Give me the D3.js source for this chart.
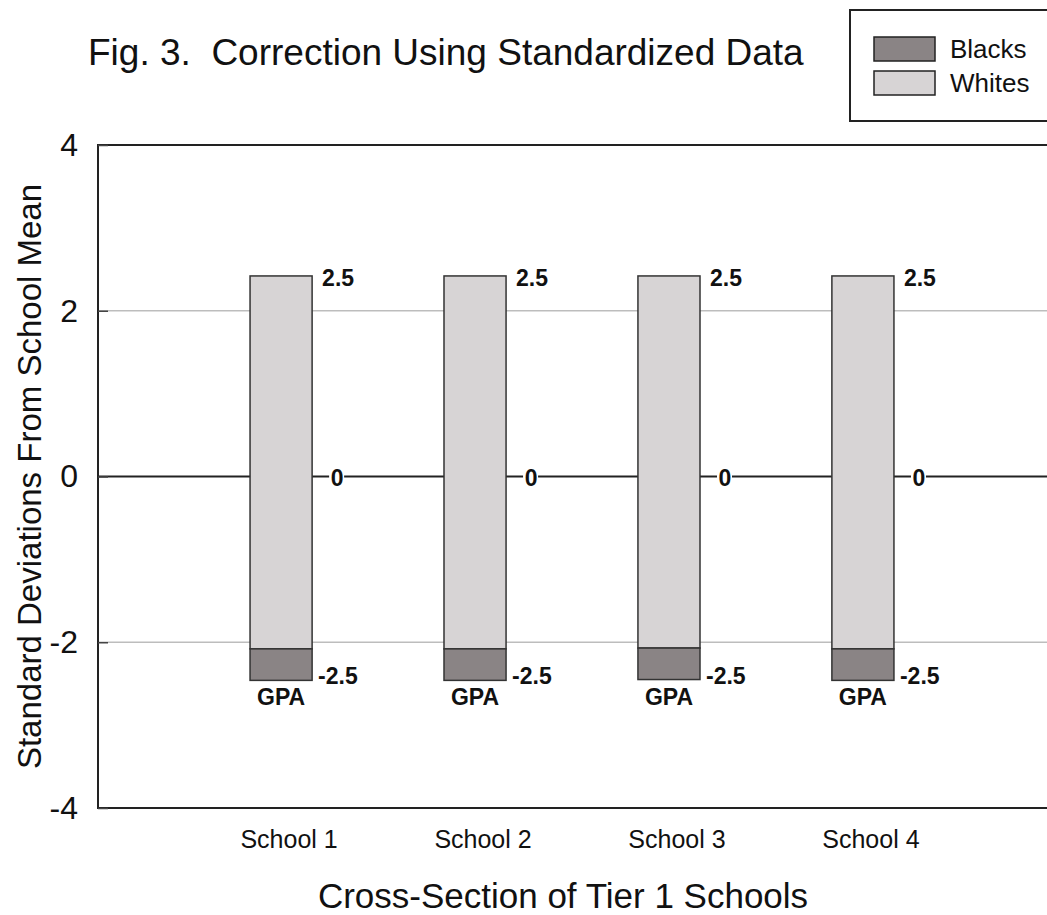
<!DOCTYPE html>
<html>
<head>
<meta charset="UTF-8">
<title>Fig. 3</title>
<style>
  body { margin: 0; background: #fff; }
  text { font-family: "Liberation Sans", Arial, sans-serif; }
</style>
</head>
<body>
<div id="chart"></div>
<script src="https://cdnjs.cloudflare.com/ajax/libs/d3/7.8.5/d3.min.js"></script>
<script>
// data
var schools = ["School 1", "School 2", "School 3", "School 4"];
var whitesTop = [2.42, 2.42, 2.42, 2.42];
var whitesBottom = [-2.08, -2.08, -2.07, -2.08];
var blacksBottom = [-2.46, -2.46, -2.45, -2.46];
var topLabels = ["2.5", "2.5", "2.5", "2.5"];
var midLabels = ["0", "0", "0", "0"];
var bottomLabels = ["-2.5", "-2.5", "-2.5", "-2.5"];
var yTicks = [-4, -2, 0, 2, 4];
var legendItems = ["Blacks", "Whites"];

var width = 1047, height = 915;
var margin = { top: 145, right: 1, bottom: 107, left: 98 };
var colors = { Blacks: "#8a8485", Whites: "#d7d4d5" };

var svg = d3.select("#chart").append("svg")
  .attr("width", width)
  .attr("height", height);

var x = d3.scaleBand()
  .domain(schools)
  .range([margin.left, width - margin.right])
  .paddingInner(0.68)
  .paddingOuter(0.784);

var y = d3.scaleLinear()
  .domain([-4, 4])
  .range([height - margin.bottom, margin.top]);

// gridlines at +-2
svg.append("g").selectAll("line")
  .data(yTicks.filter(function(d) { return d === 2 || d === -2; }))
  .join("line")
  .attr("x1", margin.left).attr("x2", width)
  .attr("y1", function(d) { return y(d); })
  .attr("y2", function(d) { return y(d); })
  .attr("stroke", "#bdbdbd").attr("stroke-width", 1.5);

// zero line
svg.append("line")
  .attr("x1", margin.left).attr("x2", width)
  .attr("y1", y(0)).attr("y2", y(0))
  .attr("stroke", "#222").attr("stroke-width", 2);

// frame (right side runs off the picture)
svg.append("rect")
  .attr("x", margin.left).attr("y", y(4))
  .attr("width", width + 50 - margin.left)
  .attr("height", y(-4) - y(4))
  .attr("fill", "none").attr("stroke", "#222").attr("stroke-width", 2);

// y axis
var yAxis = d3.axisLeft(y).tickValues(yTicks).tickSize(-10).tickPadding(20)
  .tickFormat(function(d) { return String(d); });
var gy = svg.append("g")
  .attr("transform", "translate(" + margin.left + ",0)")
  .call(yAxis);
gy.select(".domain").remove();
gy.selectAll(".tick line").attr("stroke", "#444").attr("stroke-width", 1.5);
gy.selectAll("text")
  .attr("font-size", "32px").attr("fill", "#111")
  .attr("font-family", "Liberation Sans, Arial, sans-serif");

// x axis labels
var xAxis = d3.axisBottom(x).tickSize(0).tickPadding(22);
var gx = svg.append("g")
  .attr("transform", "translate(8," + y(-4) + ")")
  .call(xAxis);
gx.select(".domain").remove();
gx.selectAll("text")
  .attr("font-size", "25px").attr("fill", "#111")
  .attr("font-family", "Liberation Sans, Arial, sans-serif");

// bars
var idx = d3.range(schools.length);
var bars = svg.append("g");
bars.selectAll("rect.whites")
  .data(idx).join("rect").attr("class", "whites")
  .attr("x", function(i) { return x(schools[i]); })
  .attr("width", x.bandwidth())
  .attr("y", function(i) { return y(whitesTop[i]); })
  .attr("height", function(i) { return y(whitesBottom[i]) - y(whitesTop[i]); })
  .attr("fill", colors.Whites).attr("stroke", "#333").attr("stroke-width", 1.5);
bars.selectAll("rect.blacks")
  .data(idx).join("rect").attr("class", "blacks")
  .attr("x", function(i) { return x(schools[i]); })
  .attr("width", x.bandwidth())
  .attr("y", function(i) { return y(whitesBottom[i]); })
  .attr("height", function(i) { return y(blacksBottom[i]) - y(whitesBottom[i]); })
  .attr("fill", colors.Blacks).attr("stroke", "#333").attr("stroke-width", 1.5);

// value labels
var lab = svg.append("g")
  .attr("font-weight", "bold").attr("font-size", "23px").attr("fill", "#111");
lab.selectAll("text.top")
  .data(idx).join("text").attr("class", "top")
  .attr("x", function(i) { return x(schools[i]) + x.bandwidth() + 10; })
  .attr("y", function(i) { return y(whitesTop[i]) + 10; })
  .text(function(i) { return topLabels[i]; });

lab.selectAll("rect.mid")
  .data(idx).join("rect").attr("class", "mid")
  .attr("x", function(i) { return x(schools[i]) + x.bandwidth() + 17; })
  .attr("y", y(0) - 12).attr("width", 15).attr("height", 24)
  .attr("fill", "#fff");
lab.selectAll("text.mid")
  .data(idx).join("text").attr("class", "mid")
  .attr("x", function(i) { return x(schools[i]) + x.bandwidth() + 25; })
  .attr("y", y(0) + 9)
  .attr("text-anchor", "middle")
  .text(function(i) { return midLabels[i]; });

lab.selectAll("text.bot")
  .data(idx).join("text").attr("class", "bot")
  .attr("x", function(i) { return x(schools[i]) + x.bandwidth() + 6; })
  .attr("y", function(i) { return y(blacksBottom[i]) + 4; })
  .text(function(i) { return bottomLabels[i]; });

lab.selectAll("text.gpa")
  .data(idx).join("text").attr("class", "gpa")
  .attr("x", function(i) { return x(schools[i]) + x.bandwidth() / 2; })
  .attr("y", function(i) { return y(blacksBottom[i]) + 25; })
  .attr("text-anchor", "middle")
  .text("GPA");

// title
svg.append("text")
  .attr("x", 88).attr("y", 65)
  .attr("font-size", "37px").attr("fill", "#111")
  .style("white-space", "pre")
  .text("Fig. 3.  Correction Using Standardized Data");

// axis titles
svg.append("text")
  .attr("transform", "translate(41," + y(0) + ") rotate(-90)")
  .attr("text-anchor", "middle")
  .attr("font-size", "33px").attr("fill", "#111")
  .text("Standard Deviations From School Mean");

svg.append("text")
  .attr("x", 563).attr("y", 908)
  .attr("text-anchor", "middle")
  .attr("font-size", "35px").attr("fill", "#111")
  .text("Cross-Section of Tier 1 Schools");

// legend
var lg = svg.append("g").attr("transform", "translate(850,10)");
lg.append("rect")
  .attr("width", 220).attr("height", 111)
  .attr("fill", "#fff").attr("stroke", "#222").attr("stroke-width", 2);
var li = lg.selectAll("g.item").data(legendItems).join("g")
  .attr("class", "item")
  .attr("transform", function(d, i) { return "translate(24," + (27 + i * 34) + ")"; });
li.append("rect")
  .attr("width", 61).attr("height", 24)
  .attr("fill", function(d) { return colors[d]; })
  .attr("stroke", "#222").attr("stroke-width", 1.5);
li.append("text")
  .attr("x", 76).attr("y", 21)
  .attr("font-size", "26px").attr("fill", "#111")
  .text(function(d) { return d; });
</script>
</body>
</html>
